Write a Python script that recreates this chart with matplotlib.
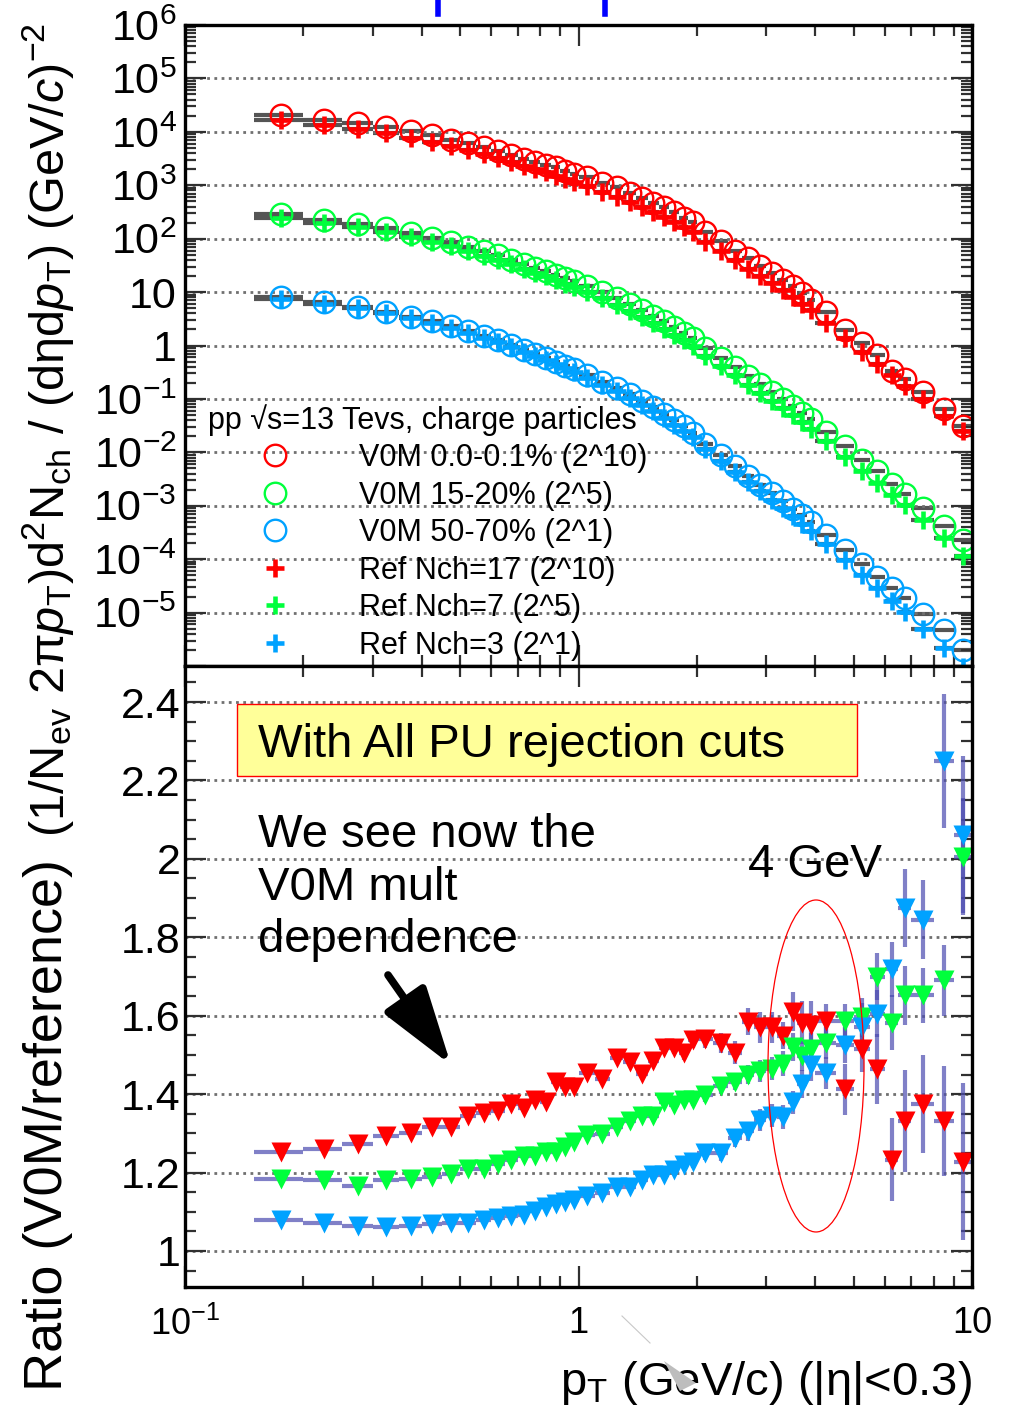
import matplotlib

matplotlib.use("Agg")
import matplotlib.pyplot as plt  # noqa: E402
import numpy as np  # noqa: E402
from matplotlib.lines import Line2D  # noqa: E402
from matplotlib.patches import Ellipse, Polygon, Rectangle  # noqa: E402
from matplotlib.ticker import (  # noqa: E402
    FixedFormatter,
    FixedLocator,
    FuncFormatter,
    LogLocator,
    MultipleLocator,
    NullFormatter,
)

plt.rcParams["font.family"] = ["Liberation Sans", "DejaVu Sans"]
plt.rcParams["mathtext.fontset"] = "custom"
plt.rcParams["mathtext.rm"] = "Liberation Sans"
plt.rcParams["mathtext.it"] = "Liberation Sans:italic"
plt.rcParams["mathtext.bf"] = "Liberation Sans:bold"

# pT binning (GeV/c)
pt_edges = np.array([
    0.15, 0.2, 0.25, 0.3, 0.35, 0.4, 0.45, 0.5, 0.55, 0.6, 0.65, 0.7, 0.75, 0.8,
    0.85, 0.9, 0.95, 1.0, 1.1, 1.2, 1.3, 1.4, 1.5, 1.6, 1.7, 1.8, 1.9, 2.0, 2.2,
    2.4, 2.6, 2.8, 3.0, 3.2, 3.4, 3.6, 3.8, 4.0, 4.5, 5.0, 5.5, 6.0, 6.5, 7.0,
    8.0, 9.0, 10.0,
])
pt = 0.5 * (pt_edges[:-1] + pt_edges[1:])
pt_halfwidth = 0.5 * (pt_edges[1:] - pt_edges[:-1])

# reference spectra (scaled by 2^10, 2^5, 2^1)
ref_nch17 = np.array([
    1.65e4, 1.33e4, 1.15e4, 9.44e3, 7.82e3, 6.53e3, 5.43e3, 4.52e3, 3.80e3, 3.24e3,
    2.72e3, 2.32e3, 2.00e3, 1.74e3, 1.51e3, 1.32e3, 1.16e3, 966, 759, 610,
    490, 394, 316, 254, 204, 164, 132, 86.1, 58.2, 39.8,
    27.5, 20.0, 14.8, 11.0, 8.13, 6.10, 4.57, 2.69, 1.38, 0.750,
    0.447, 0.275, 0.178, 0.0977, 0.0479, 0.0251,
])
ref_nch7 = np.array([
    244, 193, 163, 132, 107, 87.7, 71.6, 58.3, 48.1, 40.1,
    33.0, 27.5, 23.2, 19.8, 16.9, 14.4, 12.4, 10.0, 7.59, 5.79,
    4.44, 3.39, 2.60, 2.04, 1.60, 1.26, 1.00, 0.638, 0.417, 0.275,
    0.184, 0.129, 0.0933, 0.0679, 0.0495, 0.0367, 0.0274, 0.0160, 0.00822, 0.00447,
    0.00264, 0.00161, 0.00102, 0.000543, 0.000245, 0.000115,
])
ref_nch3 = np.array([
    7.53, 5.96, 5.01, 4.03, 3.26, 2.65, 2.14, 1.72, 1.40, 1.15,
    0.931, 0.764, 0.634, 0.532, 0.447, 0.375, 0.318, 0.251, 0.184, 0.138,
    0.104, 0.0776, 0.0582, 0.0439, 0.0331, 0.0251, 0.0191, 0.0115, 0.00700, 0.00437,
    0.00279, 0.00186, 0.00129, 0.000902, 0.000638, 0.000462, 0.000339, 0.000195, 9.66e-5, 5.07e-5,
    2.88e-5, 1.68e-5, 1.01e-5, 5.01e-6, 2.14e-6, 9.77e-7,
])

# V0M / reference ratios and their uncertainties
ratio_v0m_0 = np.array([
    1.253, 1.260, 1.273, 1.292, 1.302, 1.317, 1.317, 1.343, 1.352, 1.358,
    1.375, 1.364, 1.386, 1.380, 1.430, 1.418, 1.419, 1.454, 1.438, 1.492,
    1.481, 1.452, 1.484, 1.518, 1.518, 1.505, 1.537, 1.540, 1.530, 1.506,
    1.585, 1.570, 1.570, 1.549, 1.610, 1.582, 1.577, 1.586, 1.412, 1.516,
    1.464, 1.233, 1.332, 1.374, 1.332, 1.228,
])
ratio_v0m_15 = np.array([
    1.183, 1.180, 1.166, 1.180, 1.183, 1.188, 1.197, 1.209, 1.209, 1.222,
    1.231, 1.241, 1.243, 1.253, 1.253, 1.266, 1.279, 1.296, 1.299, 1.316,
    1.332, 1.343, 1.343, 1.381, 1.373, 1.386, 1.386, 1.398, 1.421, 1.432,
    1.450, 1.460, 1.465, 1.478, 1.520, 1.497, 1.516, 1.530, 1.586, 1.596,
    1.700, 1.582, 1.652, 1.652, 1.690, 2.006,
])
ratio_v0m_50 = np.array([
    1.079, 1.071, 1.064, 1.060, 1.064, 1.068, 1.071, 1.072, 1.079, 1.083,
    1.088, 1.092, 1.102, 1.113, 1.119, 1.126, 1.130, 1.141, 1.147, 1.164,
    1.164, 1.181, 1.194, 1.194, 1.207, 1.220, 1.228, 1.249, 1.249, 1.288,
    1.305, 1.333, 1.345, 1.341, 1.379, 1.426, 1.473, 1.454, 1.525, 1.572,
    1.605, 1.718, 1.874, 1.845, 2.250, 2.062,
])
err_v0m_0 = np.array([
    0.004, 0.004, 0.004, 0.004, 0.004, 0.004, 0.004, 0.004, 0.004, 0.004,
    0.005, 0.005, 0.005, 0.005, 0.006, 0.006, 0.006, 0.007, 0.008, 0.009,
    0.010, 0.011, 0.012, 0.014, 0.016, 0.018, 0.020, 0.022, 0.025, 0.030,
    0.035, 0.040, 0.040, 0.035, 0.050, 0.055, 0.060, 0.045, 0.065, 0.060,
    0.090, 0.105, 0.130, 0.125, 0.140, 0.200,
])
err_v0m_15 = np.array([
    0.003, 0.003, 0.003, 0.003, 0.003, 0.003, 0.003, 0.003, 0.003, 0.003,
    0.004, 0.004, 0.004, 0.004, 0.005, 0.005, 0.005, 0.006, 0.006, 0.007,
    0.008, 0.009, 0.010, 0.011, 0.012, 0.014, 0.016, 0.018, 0.020, 0.022,
    0.025, 0.028, 0.030, 0.032, 0.035, 0.038, 0.040, 0.040, 0.045, 0.050,
    0.060, 0.070, 0.075, 0.070, 0.090, 0.150,
])
err_v0m_50 = np.array([
    0.003, 0.003, 0.003, 0.003, 0.003, 0.003, 0.003, 0.003, 0.003, 0.003,
    0.004, 0.004, 0.004, 0.004, 0.005, 0.005, 0.005, 0.006, 0.006, 0.007,
    0.008, 0.009, 0.010, 0.011, 0.012, 0.014, 0.016, 0.018, 0.020, 0.022,
    0.025, 0.028, 0.030, 0.030, 0.030, 0.035, 0.040, 0.040, 0.045, 0.060,
    0.060, 0.070, 0.100, 0.100, 0.170, 0.200,
])

# V0M spectra follow from the ratio definition (V0M / reference)
v0m_0 = ref_nch17 * ratio_v0m_0
v0m_15 = ref_nch7 * ratio_v0m_15
v0m_50 = ref_nch3 * ratio_v0m_50

colors = ["#ff0000", "#00ff3c", "#00a2ff"]
v0m_labels = ["V0M 0.0-0.1% (2^10)", "V0M 15-20% (2^5)", "V0M 50-70% (2^1)"]
ref_labels = ["Ref Nch=17 (2^10)", "Ref Nch=7 (2^5)", "Ref Nch=3 (2^1)"]
bar_color = "#4b4bb0"

W, H = 1017, 1420
fig = plt.figure(figsize=(W / 100, H / 100), dpi=100)
left, right = 185, 972
ax_top = fig.add_axes([left / W, 1 - 666 / H, (right - left) / W, 641 / H])
ax_bot = fig.add_axes([left / W, 1 - 1287 / H, (right - left) / W, 621 / H])

grid_style = dict(linestyle=(0, (1.0, 1.6)), linewidth=2.0, color="#707070")

# ---- spectra panel
circle_handles, plus_handles = [], []
for ref, v0m, c, lv, lr in zip(
    [ref_nch17, ref_nch7, ref_nch3], [v0m_0, v0m_15, v0m_50], colors, v0m_labels, ref_labels
):
    for series in (v0m, ref):
        ax_top.errorbar(pt, series, xerr=pt_halfwidth, fmt="none",
                        ecolor="#555555", elinewidth=3.0, zorder=2)
    (h_circ,) = ax_top.plot(pt, v0m, linestyle="none", marker="o", ms=15.5,
                            mfc="none", mec=c, mew=1.7, label=lv, zorder=4)
    (h_plus,) = ax_top.plot(pt, ref, linestyle="none", marker="+", ms=13.5,
                            mec=c, mew=3.3, label=lr, zorder=5)
    circle_handles.append(h_circ)
    plus_handles.append(h_plus)

ax_top.set_xscale("log")
ax_top.set_yscale("log")
ax_top.set_xlim(0.1, 10)
ax_top.set_ylim(1e-6, 1e6)
decades = [10.0 ** k for k in range(-6, 7)]
decade_labels = ["", "$10^{-5}$", "$10^{-4}$", "$10^{-3}$", "$10^{-2}$", "$10^{-1}$",
                 "1", "10", "$10^{2}$", "$10^{3}$", "$10^{4}$", "$10^{5}$", "$10^{6}$"]
ax_top.yaxis.set_major_locator(FixedLocator(decades))
ax_top.yaxis.set_major_formatter(FixedFormatter(decade_labels))
ax_top.yaxis.set_minor_locator(LogLocator(base=10, subs=np.arange(2, 10), numticks=30))
ax_top.yaxis.set_minor_formatter(NullFormatter())
ax_top.yaxis.grid(True, which="major", **grid_style)

leg = ax_top.legend(
    circle_handles + plus_handles, v0m_labels + ref_labels,
    title="pp √s=13 Tevs, charge particles", loc="upper left",
    bbox_to_anchor=(0.029, 0.409), frameon=False, fontsize=22, title_fontsize=22,
    alignment="left", handlelength=4.4, handletextpad=0.55, labelspacing=0.245,
    borderpad=0, borderaxespad=0,
)
leg.set_zorder(6)

# ---- ratio panel
for ratio, err, c in zip([ratio_v0m_0, ratio_v0m_15, ratio_v0m_50],
                         [err_v0m_0, err_v0m_15, err_v0m_50], colors):
    ax_bot.errorbar(pt, ratio, xerr=pt_halfwidth, yerr=err, fmt="none",
                    ecolor=bar_color, alpha=0.7, elinewidth=3.0, zorder=3)
    ax_bot.plot(pt, ratio, linestyle="none", marker="v", ms=14, mfc=c,
                mec="none", zorder=4)

ax_bot.set_xscale("log")
ax_bot.set_xlim(0.1, 10)
ax_bot.set_ylim(0.908, 2.492)
ax_bot.yaxis.set_major_locator(MultipleLocator(0.2))
ax_bot.yaxis.set_minor_locator(MultipleLocator(0.05))
ax_bot.yaxis.set_major_formatter(FuncFormatter(lambda v, _: f"{v:g}"))
ax_bot.yaxis.grid(True, which="major", **grid_style)

for ax in (ax_top, ax_bot):
    ax.xaxis.set_major_locator(FixedLocator([0.1, 1, 10]))
    ax.xaxis.set_minor_locator(LogLocator(base=10, subs=np.arange(2, 10), numticks=10))
    ax.xaxis.set_minor_formatter(NullFormatter())
    ax.tick_params(which="both", direction="in", top=True, right=True,
                   width=1.6, color="#303030")
    ax.tick_params(which="major", length=15)
    ax.tick_params(which="minor", length=8)
    ax.tick_params(axis="y", labelsize=31, pad=6)
    for spine in ax.spines.values():
        spine.set_linewidth(2.4)
        spine.set_zorder(7)
    ax.set_axisbelow(False)

ax_top.tick_params(axis="x", labelbottom=False)
ax_bot.tick_params(axis="y", pad=3)
ax_bot.xaxis.set_major_formatter(FixedFormatter(["$10^{-1}$", "1", "10"]))
ax_bot.tick_params(axis="x", labelsize=26, pad=14)

ax_bot.set_xlabel("p$_{\\rm T}$ (GeV/c) (|η|<0.3)", fontsize=34, loc="right",
                  labelpad=12)

# ---- annotations on the ratio panel
ax_bot.add_patch(Rectangle((0.0661, 0.823), 0.788, 0.116, transform=ax_bot.transAxes,
                           facecolor="#ffff99", edgecolor="#ff0000", lw=1.0, zorder=6))
ax_bot.text(0.0928, 0.8535, "With All PU rejection cuts", transform=ax_bot.transAxes,
            fontsize=34, va="baseline", ha="left", zorder=7)
ax_bot.text(0.0928, 0.763, "We see now the\nV0M mult\ndependence",
            transform=ax_bot.transAxes, fontsize=34, va="top", ha="left",
            linespacing=1.25, zorder=7)
ax_bot.text(0.715, 0.661, "4 GeV", transform=ax_bot.transAxes, fontsize=34,
            va="baseline", ha="left", zorder=7)
ax_bot.add_patch(Ellipse((0.8018, 0.3559), 0.122, 0.5346, transform=ax_bot.transAxes,
                         facecolor="none", edgecolor="#ff0000", lw=0.9, zorder=8))
ax_bot.annotate("", xy=(451 / W, 1 - 1065 / H), xytext=(388 / W, 1 - 975 / H),
                xycoords="figure fraction", textcoords="figure fraction",
                arrowprops=dict(arrowstyle="-|>,head_length=1.2,head_width=0.38",
                                lw=5.5, color="black", mutation_scale=40,
                                shrinkA=0, shrinkB=0), zorder=8)

# ---- shared y-axis titles
fig.text(48 / W, 1 - 1125 / H, "Ratio (V0M/reference)", rotation=90, fontsize=39,
         ha="center", va="center")
fig.text(48 / W, 1 - 430 / H,
         "(1/N$_{\\rm ev}$ 2π$\\it{p}$$_{\\rm T}$)d$^{2}$N$_{\\rm ch}$ / "
         "(dηd$\\it{p}$$_{\\rm T}$) (GeV/$\\it{c}$)$^{-2}$",
         rotation=90, fontsize=35, ha="center", va="center")

# ---- slide decorations
for xb in (438, 605):
    fig.add_artist(Line2D([xb / W, xb / W], [1.0, 1 - 14 / H], color="#0000ff", lw=4))
fig.add_artist(Line2D([622 / W, 650 / W], [1 - 1316 / H, 1 - 1343 / H],
                      color="#c8c8c8", lw=0.8))
fig.add_artist(Polygon([(664 / W, 1 - 1361 / H), (696 / W, 1 - 1383 / H),
                        (680 / W, 1 - 1391 / H)], closed=True,
                       transform=fig.transFigure, facecolor="#bdbdbd",
                       edgecolor="none", zorder=10))

fig.savefig("out.png", dpi=100)
